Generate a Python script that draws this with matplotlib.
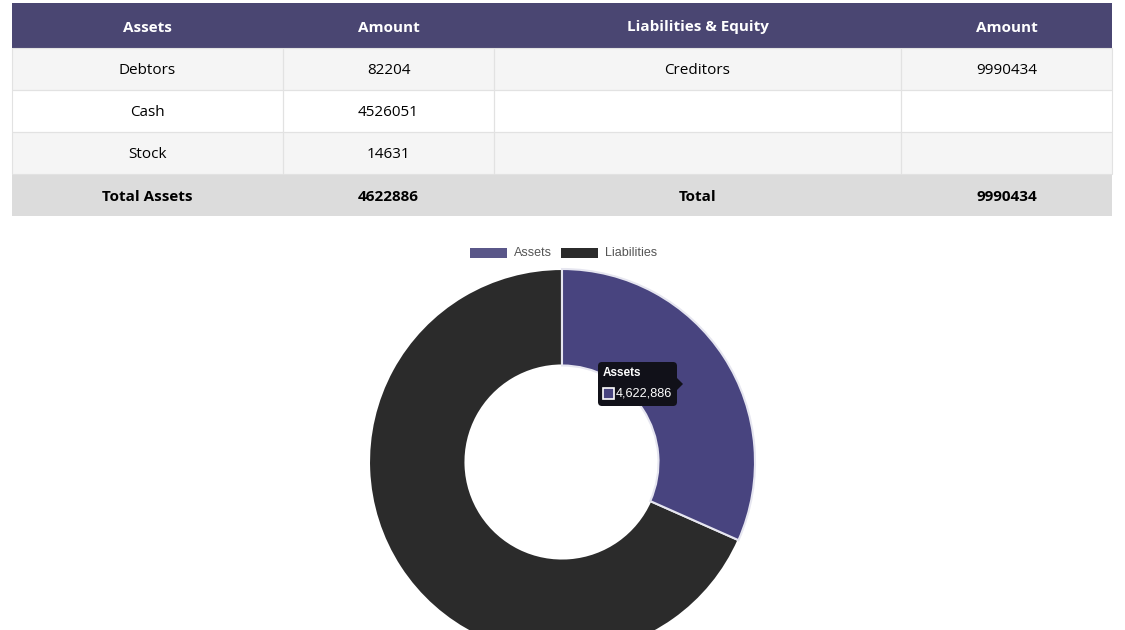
"""Balance sheet table with an assets / liabilities donut below it."""

import matplotlib.pyplot as plt
from matplotlib.patches import FancyBboxPatch, Polygon, Rectangle

asset_names = ["Debtors", "Cash", "Stock"]
asset_amounts = [82204, 4526051, 14631]
liab_names = ["Creditors", "", ""]
liab_amounts = [9990434, None, None]
headers = ["Assets", "Amount", "Liabilities & Equity", "Amount"]
donut_labels = ["Assets", "Liabilities"]
donut_colors = ["#48447f", "#2b2b2b"]
legend_colors = ["#5a5789", "#2b2b2b"]

HEADER_BG = "#4a4672"
BORDER = "#e2e2e2"
W, H = 1125, 630
SANS = ["Liberation Sans", "DejaVu Sans"]

plt.rcParams["font.family"] = ["Open Sans", "DejaVu Sans"]

fig = plt.figure(figsize=(W / 100, H / 100), dpi=100, facecolor="white")


def pixel_axes(zorder):
    ax = fig.add_axes([0, 0, 1, 1], zorder=zorder)
    ax.set_xlim(0, W)
    ax.set_ylim(H, 0)
    ax.set_axis_off()
    ax.patch.set_alpha(0)
    return ax


bg = pixel_axes(0)

# ---- table ----
col_x = [12, 283, 494, 901, 1112]
row_y = [3, 48, 90, 132, 174, 216]
row_bg = [HEADER_BG, "#f5f5f5", "#ffffff", "#f5f5f5", "#dcdcdc"]

total_assets = sum(asset_amounts)
total_liab = sum(v for v in liab_amounts if v is not None)

rows = [headers]
for an, aa, ln, la in zip(asset_names, asset_amounts, liab_names, liab_amounts):
    rows.append([an, str(aa), ln, "" if la is None else str(la)])
rows.append(["Total Assets", str(total_assets), "Total", str(total_liab)])

for r, cells in enumerate(rows):
    y0, y1 = row_y[r], row_y[r + 1]
    bg.add_patch(Rectangle((col_x[0], y0), col_x[-1] - col_x[0], y1 - y0,
                           facecolor=row_bg[r], edgecolor="none", zorder=1))
    for c, txt in enumerate(cells):
        x0, x1 = col_x[c], col_x[c + 1]
        if 0 < r < len(rows) - 1:
            bg.add_patch(Rectangle((x0, y0), x1 - x0, y1 - y0, facecolor="none",
                                   edgecolor=BORDER, linewidth=0.8, zorder=2))
        bold = r == 0 or r == len(rows) - 1
        bg.text((x0 + x1) / 2, (y0 + y1) / 2 + 2, txt, ha="center", va="center",
                fontsize=11, fontweight="bold" if bold else "normal",
                color="white" if r == 0 else "black", zorder=3)

# ---- legend ----
leg_x = [470, 561]
for lx, lab, col in zip(leg_x, donut_labels, legend_colors):
    bg.add_patch(Rectangle((lx, 248), 37, 9.5, facecolor=col, edgecolor="none"))
    bg.text(lx + 44, 252.5, lab, ha="left", va="center", fontsize=9,
            family=SANS, color="#555555")

# ---- donut ----
cx, cy, rad = 562, 462, 193
pax = fig.add_axes([(cx - rad) / W, (H - cy - rad) / H, 2 * rad / W, 2 * rad / H],
                   zorder=1)
wedges, _ = pax.pie([total_assets, total_liab], colors=donut_colors, startangle=90,
                    counterclock=False, radius=1,
                    wedgeprops=dict(width=0.5, linewidth=1.5))
wedges[0].set_edgecolor("#e6e6f0")
wedges[1].set_edgecolor("white")
wedges[0].set_zorder(3)
pax.set_xlim(-1, 1)
pax.set_ylim(-1, 1)
pax.set_axis_off()

# ---- tooltip ----
top = pixel_axes(2)
TIP = "#111119"
top.add_patch(FancyBboxPatch((598, 362), 79, 44,
                             boxstyle="round,pad=0,rounding_size=4",
                             facecolor=TIP, edgecolor="none"))
top.add_patch(Polygon([[677, 378], [683, 384], [677, 390]], closed=True,
                      facecolor=TIP, edgecolor="none"))
top.text(603, 372.5, donut_labels[0], ha="left", va="center", fontsize=8.5,
         fontweight="bold", color="white", family=SANS)
top.add_patch(Rectangle((603, 388), 11, 11, facecolor=donut_colors[0],
                        edgecolor="white", linewidth=1.2))
top.text(616, 394, f"{total_assets:,}", ha="left", va="center", fontsize=9.2,
         color="white", family=SANS)

fig.savefig("out.png", dpi=100, facecolor="white")
